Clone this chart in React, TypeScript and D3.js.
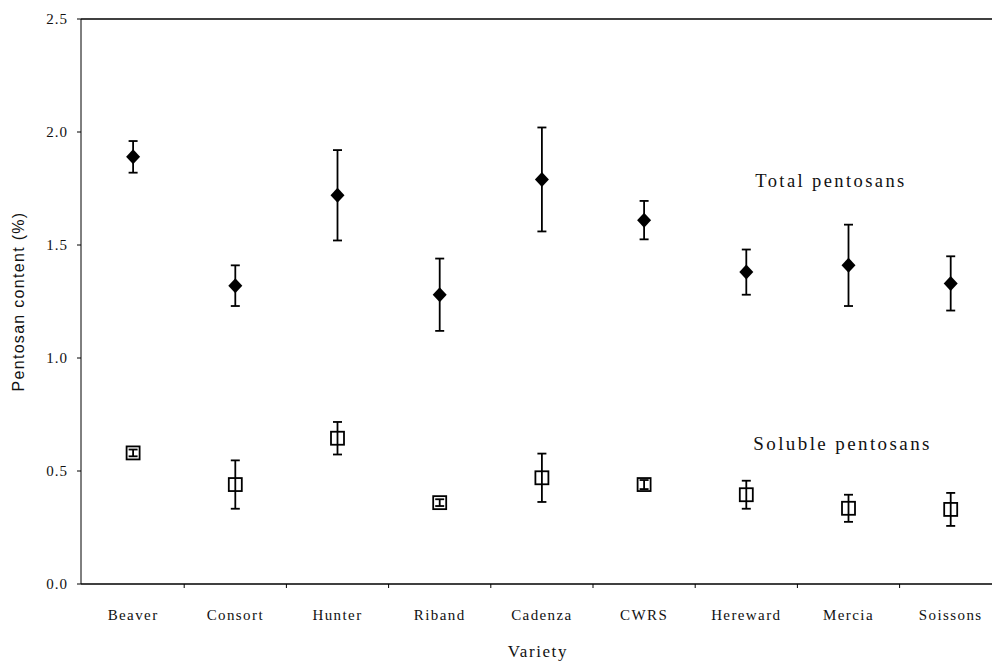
import React from "react";
import * as d3 from "d3";

// Wheat varieties and pentosan measurements (mean ± error)
const categories = ["Beaver", "Consort", "Hunter", "Riband", "Cadenza", "CWRS", "Hereward", "Mercia", "Soissons"];
const totalMean = [1.89, 1.32, 1.72, 1.28, 1.79, 1.61, 1.38, 1.41, 1.33];
const totalErr = [0.07, 0.09, 0.2, 0.16, 0.23, 0.085, 0.1, 0.18, 0.12];
const solubleMean = [0.58, 0.44, 0.645, 0.36, 0.47, 0.44, 0.395, 0.335, 0.33];
const solubleErr = [0.015, 0.107, 0.072, 0.015, 0.107, 0.02, 0.062, 0.06, 0.073];
const yTicks = [0, 0.5, 1.0, 1.5, 2.0, 2.5];

const W = 992;
const H = 664;
const left = 81;
const top = 19;
const bottom = 584;
const bandW = 102.2;

const serif = "'Liberation Serif', 'Times New Roman', serif";
const sans = "'Liberation Sans', Arial, sans-serif";

// filled diamond marker outline, centred on the origin
const diamondPath = d3.line()([
  [0, -7.5],
  [7, 0],
  [0, 7.5],
  [-7, 0],
]) + "Z";

export default function App() {
  const x = d3
    .scaleBand<string>()
    .domain(categories)
    .range([left + 1, left + 1 + bandW * categories.length])
    .padding(0);
  const y = d3.scaleLinear().domain([0, 2.5]).range([bottom, top]);
  const cx = (c: string) => (x(c) as number) + x.bandwidth() / 2;

  const capHalf = 4.5;

  const errorBar = (c: string, m: number, e: number, key: string) => {
    const xc = cx(c);
    return (
      <g key={key} stroke="#000" strokeWidth={1.8}>
        <line x1={xc} x2={xc} y1={y(m + e)} y2={y(m - e)} />
        <line x1={xc - capHalf} x2={xc + capHalf} y1={y(m + e)} y2={y(m + e)} />
        <line x1={xc - capHalf} x2={xc + capHalf} y1={y(m - e)} y2={y(m - e)} />
      </g>
    );
  };

  return (
    <div style={{ position: "absolute", left: 0, top: 0, width: W, height: H, background: "#fff" }}>
      <svg width={W} height={H} style={{ display: "block" }}>
        <rect width={W} height={H} fill="#fff" />

        {/* frame: left axis, top border, bottom axis */}
        <line x1={left} x2={left} y1={top} y2={bottom} stroke="#000" strokeWidth={1} />
        <line x1={left} x2={W} y1={top} y2={top} stroke="#000" strokeWidth={1.3} />
        <line x1={left} x2={W} y1={bottom} y2={bottom} stroke="#000" strokeWidth={1.3} />

        {/* y axis ticks and labels */}
        {yTicks.map((t) => (
          <g key={t}>
            <line x1={left - 4} x2={left} y1={y(t)} y2={y(t)} stroke="#000" />
            <text
              x={left - 13}
              y={y(t) + 5}
              textAnchor="end"
              fontFamily={serif}
              fontSize={15}
              letterSpacing={1}
              fill="#111"
            >
              {t.toFixed(1)}
            </text>
          </g>
        ))}

        {/* x axis ticks at category boundaries */}
        {categories.map((c) => (
          <line
            key={"t" + c}
            x1={(x(c) as number) + x.bandwidth()}
            x2={(x(c) as number) + x.bandwidth()}
            y1={bottom}
            y2={bottom + 4}
            stroke="#000"
          />
        ))}

        {/* category labels */}
        {categories.map((c) => (
          <text
            key={"l" + c}
            x={cx(c)}
            y={620}
            textAnchor="middle"
            fontFamily={serif}
            fontSize={15}
            letterSpacing={1.4}
            fill="#111"
          >
            {c}
          </text>
        ))}

        {/* axis titles */}
        <text
          x={cx("Cadenza") - 4}
          y={657}
          textAnchor="middle"
          fontFamily={serif}
          fontSize={17}
          letterSpacing={1.6}
          fill="#111"
        >
          Variety
        </text>
        <text
          transform={`translate(24, ${(top + bottom) / 2}) rotate(-90)`}
          textAnchor="middle"
          fontFamily={sans}
          fontSize={16}
          letterSpacing={1.3}
          fill="#111"
        >
          Pentosan content (%)
        </text>

        {/* total pentosans */}
        {categories.map((c, i) => errorBar(c, totalMean[i], totalErr[i], "te" + c))}
        {categories.map((c, i) => (
          <path
            key={"tm" + c}
            d={diamondPath}
            transform={`translate(${cx(c)}, ${y(totalMean[i])})`}
            fill="#000"
          />
        ))}

        {/* soluble pentosans */}
        {categories.map((c, i) => (
          <rect
            key={"sm" + c}
            x={cx(c) - 6.5}
            y={y(solubleMean[i]) - 6.5}
            width={13}
            height={13}
            fill="#fff"
            stroke="#000"
            strokeWidth={1.8}
          />
        ))}
        {categories.map((c, i) => errorBar(c, solubleMean[i], solubleErr[i], "se" + c))}

        {/* series annotations */}
        <text
          x={cx("Hereward") + 9}
          y={y(1.755)}
          fontFamily={serif}
          fontSize={18.5}
          letterSpacing={2.4}
          fill="#111"
        >
          Total pentosans
        </text>
        <text
          x={cx("Hereward") + 7}
          y={y(0.595)}
          fontFamily={serif}
          fontSize={19}
          letterSpacing={2.4}
          fill="#111"
        >
          Soluble pentosans
        </text>
      </svg>
    </div>
  );
}
